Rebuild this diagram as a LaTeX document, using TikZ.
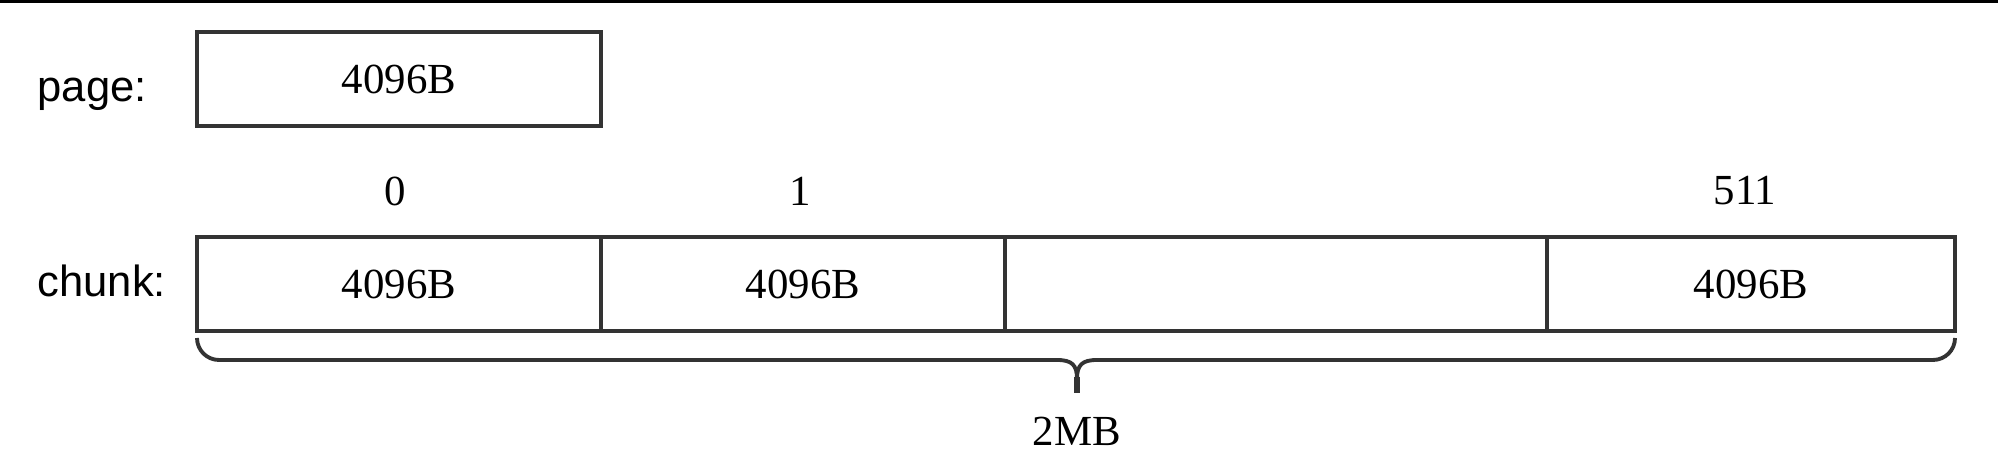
\documentclass[tikz,border=0pt]{standalone}
\usepackage{fontspec}
\setmainfont{Liberation Serif}
\newfontfamily\labelfont{Liberation Sans}

\begin{document}
\begin{tikzpicture}[
    cell/.style={draw=black!80, line width=1.1pt, minimum height=0.94cm,
      inner sep=0pt, outer sep=0pt, text=black, font=\fontsize{12.2}{14}\selectfont},
    rowlabel/.style={anchor=base west, inner sep=0pt, text=black, font=\labelfont\fontsize{12.4}{14}\selectfont},
    idx/.style={text=black, font=\fontsize{12.2}{14}\selectfont},
    bracket/.style={draw=black!80, line width=1.1pt}]

  \useasboundingbox (0,0) rectangle (19.98,4.57);

  % Top rule
  \draw[black, line width=0.7pt] (0,4.555) -- (19.98,4.555);

  %%%%%%%%%%%%%%%%%%%%%%%%%%%%%%%%%%%%%%%%%%%%%%%%%
  % Page
  \node[rowlabel] (pagelbl) at (0.37,3.55) {page:};
  \node[cell, minimum width=4.04cm] (page) at (3.99,3.78) {4096B};

  %%%%%%%%%%%%%%%%%%%%%%%%%%%%%%%%%%%%%%%%%%%%%%%%%
  % Chunk
  \node[rowlabel] (chunklbl) at (0.37,1.60) {chunk:};
  \node[cell, minimum width=4.04cm] (c0) at (3.99,1.73) {4096B};
  \node[cell, minimum width=4.04cm] (c1) at (8.03,1.73) {4096B};
  \node[cell, minimum width=5.42cm] (c2) at (12.76,1.73) {};
  \node[cell, minimum width=4.08cm] (c3) at (17.51,1.73) {4096B};

  % Indices
  \node[idx] (i0) at (3.95,2.66) {0};
  \node[idx] (i1) at (8.0,2.66) {1};
  \node[idx] (i511) at (17.45,2.66) {511};

  % Brace and size
  \coordinate (brl) at ([yshift=-0.07cm]c0.south west);
  \coordinate (brr) at ([yshift=-0.07cm]c3.south east);
  \coordinate (tip) at (10.77,0.64);
  \draw[bracket] (brl) arc[start angle=180, end angle=270, radius=0.22]
      -- (10.57,0.97) .. controls (10.72,0.97) and (10.77,0.92) .. (10.77,0.78) -- (tip)
      (10.77,0.78) .. controls (10.77,0.92) and (10.82,0.97) .. (10.97,0.97)
      -- (19.33,0.97) arc[start angle=270, end angle=360, radius=0.22];
  \draw[bracket, line width=1.6pt] (10.77,0.80) -- (tip);
  \node[idx] (size) at (10.77,0.26) {2MB};

\end{tikzpicture}
\end{document}
